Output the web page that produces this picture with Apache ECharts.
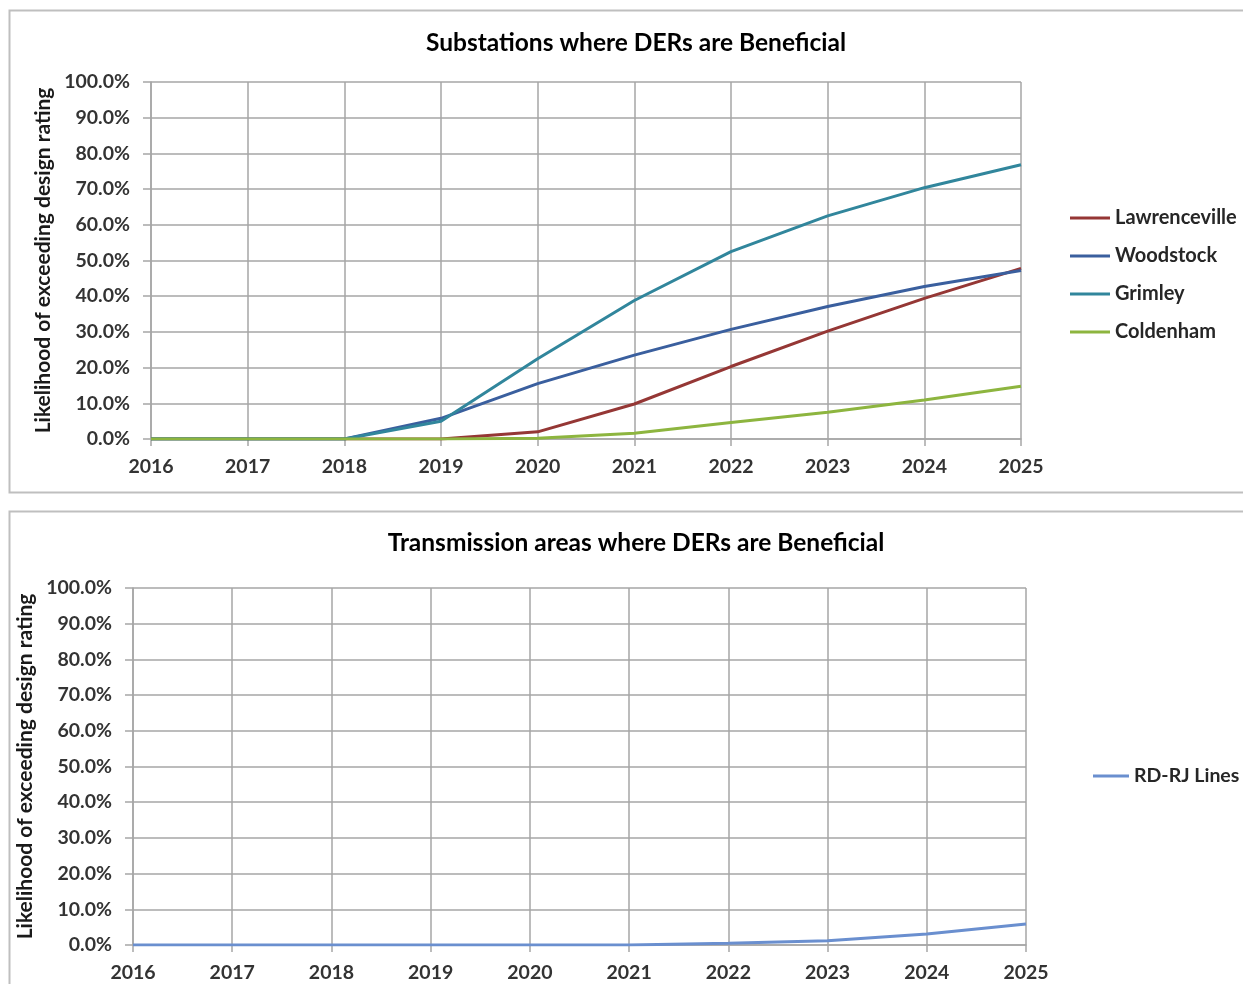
<!DOCTYPE html>
<html><head><meta charset="utf-8">
<script src="https://cdn.jsdelivr.net/npm/echarts@6/dist/echarts.min.js"></script>
<style>html,body{margin:0;padding:0;background:#fff}#c{width:1243px;height:984px}</style>
</head><body><div id="c"></div>
<script>
const years = ['2016','2017','2018','2019','2020','2021','2022','2023','2024','2025'];
const yTicks = ['0.0%','10.0%','20.0%','30.0%','40.0%','50.0%','60.0%','70.0%','80.0%','90.0%','100.0%'];
const lawrenceville = [0, 0, 0, 0, 2.0, 9.8, 20.3, 30.2, 39.4, 47.8];
const woodstock     = [0, 0, 0, 5.8, 15.5, 23.5, 30.7, 37.1, 42.7, 47.2];
const grimley       = [0, 0, 0, 5.0, 22.5, 38.8, 52.5, 62.5, 70.4, 76.8];
const coldenham     = [0, 0, 0, 0, 0.2, 1.6, 4.6, 7.5, 10.9, 14.8];
const rdrjLines     = [0, 0, 0, 0, 0, 0, 0.5, 1.2, 3.1, 5.9];
const topTitle = 'Substations where DERs are Beneficial';
const botTitle = 'Transmission areas where DERs are Beneficial';
const yName = 'Likelihood of exceeding design rating';

const FONT = 'Lato';
const gridColor = '#a6a6a6';
const labelColor = '#333333';

function xAxis(gi){
  return {type:'category', gridIndex:gi, data:years, boundaryGap:false,
    axisLine:{lineStyle:{color:gridColor,width:1.5}},
    axisTick:{show:true,length:7,alignWithLabel:true,lineStyle:{color:gridColor,width:1.5}},
    axisLabel:{color:labelColor,fontFamily:FONT,fontSize:19.5,fontWeight:'bold',margin:18},
    splitLine:{show:true,lineStyle:{color:gridColor,width:1.5}}};
}
function yAxis(gi){
  return {type:'value', gridIndex:gi, min:0, max:100, interval:10,
    name:yName, nameLocation:'middle', nameGap:93, nameRotate:90,
    nameTextStyle:{color:'#1a1a1a',fontFamily:FONT,fontSize:21,fontWeight:'bold'},
    axisLine:{show:true,lineStyle:{color:gridColor,width:1.5}},
    axisTick:{show:true,length:8,lineStyle:{color:gridColor,width:1.5}},
    axisLabel:{color:labelColor,fontFamily:FONT,fontSize:19.5,fontWeight:'bold',margin:21,
      formatter:(v)=>yTicks[Math.round(v/10)]},
    splitLine:{show:true,lineStyle:{color:gridColor,width:1.5}}};
}
function line(name,data,color,gi){
  return {name, type:'line', data, xAxisIndex:gi, yAxisIndex:gi, showSymbol:false, symbol:'none',
    lineStyle:{color,width:3}, itemStyle:{color}, animation:false};
}
const legendText = {color:'#262626',fontFamily:FONT,fontSize:20,fontWeight:'bold',lineHeight:22};

const chart = echarts.init(document.getElementById('c'));
chart.setOption({
  backgroundColor:'#fff',
  animation:false,
  graphic:[
    {type:'rect',shape:{x:9.5,y:10.5,width:1250,height:482},style:{fill:'none',stroke:'#bfbfbf',lineWidth:2}},
    {type:'rect',shape:{x:9.5,y:511.5,width:1250,height:490},style:{fill:'none',stroke:'#bfbfbf',lineWidth:2}}
  ],
  title:[
    {text:topTitle,left:631,textAlign:'center',top:26,textStyle:{fontFamily:FONT,fontSize:24.5,fontWeight:'bold',color:'#000'}},
    {text:botTitle,left:631,textAlign:'center',top:526,textStyle:{fontFamily:FONT,fontSize:24.5,fontWeight:'bold',color:'#000'}}
  ],
  grid:[
    {left:151,top:82,width:870,height:357},
    {left:133,top:588,width:893,height:357}
  ],
  xAxis:[xAxis(0),xAxis(1)],
  yAxis:[yAxis(0),yAxis(1)],
  legend:[
    {data:['Lawrenceville','Woodstock','Grimley','Coldenham'],orient:'vertical',left:1070,top:207,
     icon:'rect',itemWidth:40,itemHeight:3,itemGap:16,textStyle:legendText,padding:0},
    {data:['RD-RJ Lines'],orient:'vertical',left:1093,top:765,
     icon:'rect',itemWidth:36,itemHeight:3,textStyle:Object.assign({},legendText,{fontSize:19.5}),padding:0}
  ],
  series:[
    line('Lawrenceville',lawrenceville,'#953735',0),
    line('Woodstock',woodstock,'#3a5f9e',0),
    line('Grimley',grimley,'#31869c',0),
    line('Coldenham',coldenham,'#8db53f',0),
    line('RD-RJ Lines',rdrjLines,'#6a8fcf',1)
  ]
});
</script></body></html>
